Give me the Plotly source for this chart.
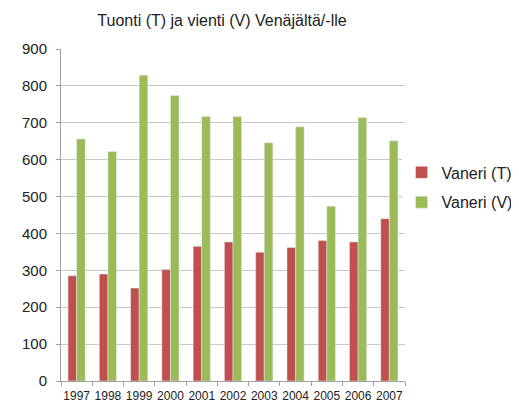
import plotly.graph_objects as go

years = ["1997", "1998", "1999", "2000", "2001", "2002", "2003", "2004", "2005", "2006", "2007"]
tuonti = [285, 290, 252, 302, 365, 377, 349, 362, 381, 377, 440]
vienti = [656, 622, 829, 774, 717, 717, 646, 689, 474, 714, 651]
y_ticks = [0, 100, 200, 300, 400, 500, 600, 700, 800, 900]

fig = go.Figure()
fig.add_trace(go.Bar(x=years, y=tuonti, name="Vaneri (T)", marker_color="#c0504d", legendgroup="t"))
fig.add_trace(go.Bar(x=years, y=vienti, name="Vaneri (V)", marker_color="#9bbb59", legendgroup="v"))

font = "Liberation Sans, Arial, sans-serif"
# page body has an 8px margin, so the figure is 511x400 placed at (8, 8)
fig.update_layout(
    width=511, height=400,
    margin=dict(l=53, r=114, t=41, b=27, autoexpand=False),
    paper_bgcolor="white", plot_bgcolor="white",
    barmode="group", bargap=0.45, bargroupgap=0,
    title=dict(text="Tuonti (T) ja vienti (V) Venäjältä/-lle", x=(214 - 53) / 344, xref="paper",
               xanchor="center", y=0.97, yanchor="middle",
               font=dict(family=font, size=16, color="#222")),
    legend=dict(x=0.99, y=0.583, xanchor="left", yanchor="middle",
                font=dict(family=font, size=16, color="#222"), tracegroupgap=6),
    font=dict(family=font, color="#222"),
)
fig.update_xaxes(type="category", showline=True, linecolor="#a0a0a0", linewidth=1,
                 ticks="outside", tickson="boundaries", ticklen=4, tickcolor="#a0a0a0",
                 tickangle=0, tickfont=dict(size=12, family=font), showgrid=False,
                 automargin=False, ticklabelstandoff=4)
fig.update_yaxes(range=[0, 900], tickvals=y_ticks, showline=True, linecolor="#a0a0a0",
                 ticks="outside", ticklen=4, tickcolor="#a0a0a0", gridcolor="#c8c8c8",
                 tickfont=dict(size=15, family=font), zeroline=False, automargin=False,
                 ticklabelstandoff=6)
fig.write_html("out.html")
